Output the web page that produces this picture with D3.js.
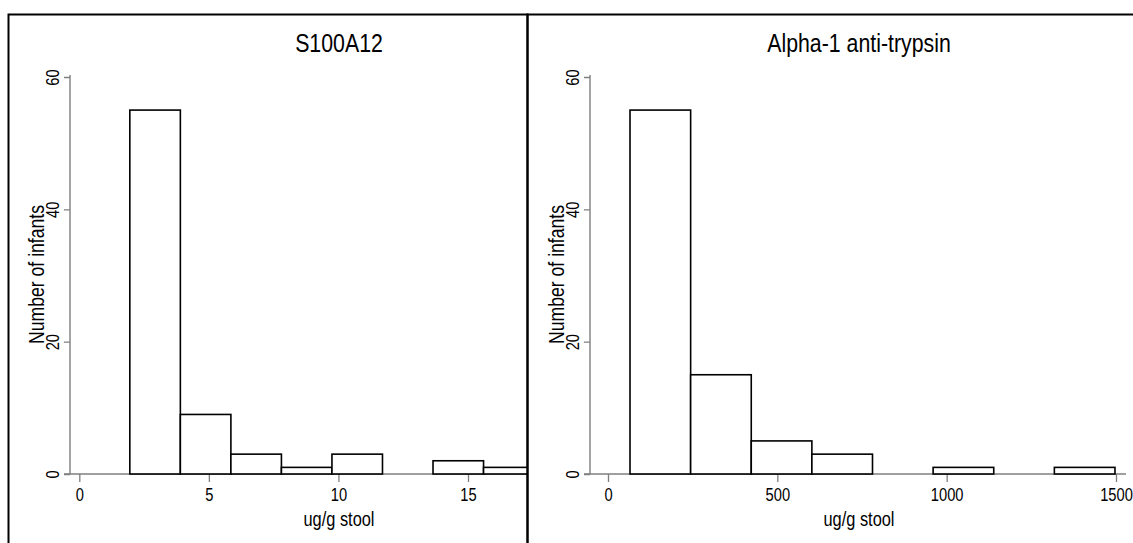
<!DOCTYPE html>
<html><head><meta charset="utf-8">
<script src="https://cdn.jsdelivr.net/npm/d3@7"></script>
<style>
html,body{margin:0;padding:0;background:#fff;}
svg text{font-family:"Liberation Sans",Arial,Helvetica,sans-serif;fill:#000;}
</style></head>
<body><svg id="c" width="1133" height="543"></svg>
<script>
// Data
const titles = ["S100A12", "Alpha-1 anti-trypsin"];
const s100Edges = [1.95, 3.9, 5.85, 7.8, 9.75, 11.7, 13.65, 15.6, 17.55];
const s100Counts = [55, 9, 3, 1, 3, 0, 2, 1];
const a1atEdges = [65, 244, 423, 602, 781, 960, 1139, 1318, 1497];
const a1atCounts = [55, 15, 5, 3, 0, 1, 0, 1];
const s100Ticks = [0, 5, 10, 15];
const a1atTicks = [0, 500, 1000, 1500];
const yTicks = [0, 20, 40, 60];
const xTitle = "ug/g stool";
const yTitle = "Number of infants";

const SX = 0.84; // condensed glyph look
const svg = d3.select("#c");
const defs = svg.append("defs");
const y = d3.scaleLinear().domain([0, 60]).range([474, 77]);

const panels = [
  {x0: 8.5, x1: 527.5, title: titles[0], edges: s100Edges, counts: s100Counts, ticks: s100Ticks,
   xs: d3.scaleLinear().domain([0, 15]).range([79.3, 468]), axisL: 70, axisR: 540, cx: 339},
  {x0: 527.5, x1: 1160, title: titles[1], edges: a1atEdges, counts: a1atCounts, ticks: a1atTicks,
   xs: d3.scaleLinear().domain([0, 1500]).range([608, 1116]), axisL: 590, axisR: 1126, cx: 859}
];

panels.forEach((p, i) => {
  const g = svg.append("g");
  const clipId = "clip" + i;
  defs.append("clipPath").attr("id", clipId)
    .append("rect").attr("x", p.x0).attr("y", 0).attr("width", p.x1 - p.x0).attr("height", 543);
  const inner = g.append("g").attr("clip-path", `url(#${clipId})`);

  // x axis
  const xa = d3.axisBottom(p.xs).tickValues(p.ticks).tickSize(8).tickFormat(d3.format("d"));
  const gx = inner.append("g").attr("transform", `translate(0,${y(0)})`).call(xa);
  gx.select(".domain").remove();
  gx.insert("line", ":first-child").attr("x1", p.axisL - 6).attr("x2", p.axisR).attr("y1", 0).attr("y2", 0)
    .attr("stroke", "#7f7f7f").attr("stroke-width", 1.4);
  gx.selectAll(".tick line").attr("stroke", "#7f7f7f").attr("stroke-width", 1.3);
  gx.selectAll(".tick text").attr("font-size", 17.5).attr("fill", "#000").attr("font-family", null)
    .attr("y", 0).attr("dy", null).attr("transform", `translate(0,26.5) scale(${SX},1)`);

  // y axis
  const ya = d3.axisLeft(y).tickValues(yTicks).tickSize(6).tickFormat(d3.format("d"));
  const gy = inner.append("g").attr("transform", `translate(${p.axisL},0)`).call(ya);
  gy.select(".domain").remove();
  gy.append("line").attr("x1", 0).attr("x2", 0).attr("y1", 75).attr("y2", y(0))
    .attr("stroke", "#7f7f7f").attr("stroke-width", 1.4);
  gy.selectAll(".tick line").attr("stroke", "#7f7f7f").attr("stroke-width", 1.3);
  gy.selectAll(".tick text").attr("font-size", 17.5).attr("fill", "#000").attr("font-family", null)
    .attr("text-anchor", "middle").attr("dy", null).attr("x", 0).attr("y", 0)
    .attr("transform", `translate(-11.5,0) rotate(-90) scale(${SX},1)`);

  // bars
  const bins = p.counts.map((c, k) => ({x0: p.edges[k], x1: p.edges[k + 1], c}));
  inner.append("g").selectAll("rect").data(bins.filter(b => b.c > 0)).join("rect")
    .attr("x", b => p.xs(b.x0)).attr("width", b => p.xs(b.x1) - p.xs(b.x0))
    .attr("y", b => y(b.c)).attr("height", b => y(0) - y(b.c))
    .attr("fill", "#fff").attr("stroke", "#000").attr("stroke-width", 1.6);

  // titles
  inner.append("text").attr("transform", `translate(${p.cx},52) scale(0.82,1)`).attr("text-anchor", "middle")
    .attr("font-size", 26).text(p.title);
  inner.append("text").attr("transform", `translate(${p.cx},526) scale(0.82,1)`).attr("text-anchor", "middle")
    .attr("font-size", 20).text(xTitle);
  inner.append("text").attr("transform", `translate(${p.axisL - 26},${(75 + 474) / 2}) rotate(-90) scale(0.82,1)`)
    .attr("text-anchor", "middle").attr("font-size", 21.5).text(yTitle);

  // frame
  g.append("rect").attr("x", p.x0).attr("y", 14.5).attr("width", p.x1 - p.x0).attr("height", 600)
    .attr("fill", "none").attr("stroke", "#000").attr("stroke-width", 2);
});
</script></body></html>
